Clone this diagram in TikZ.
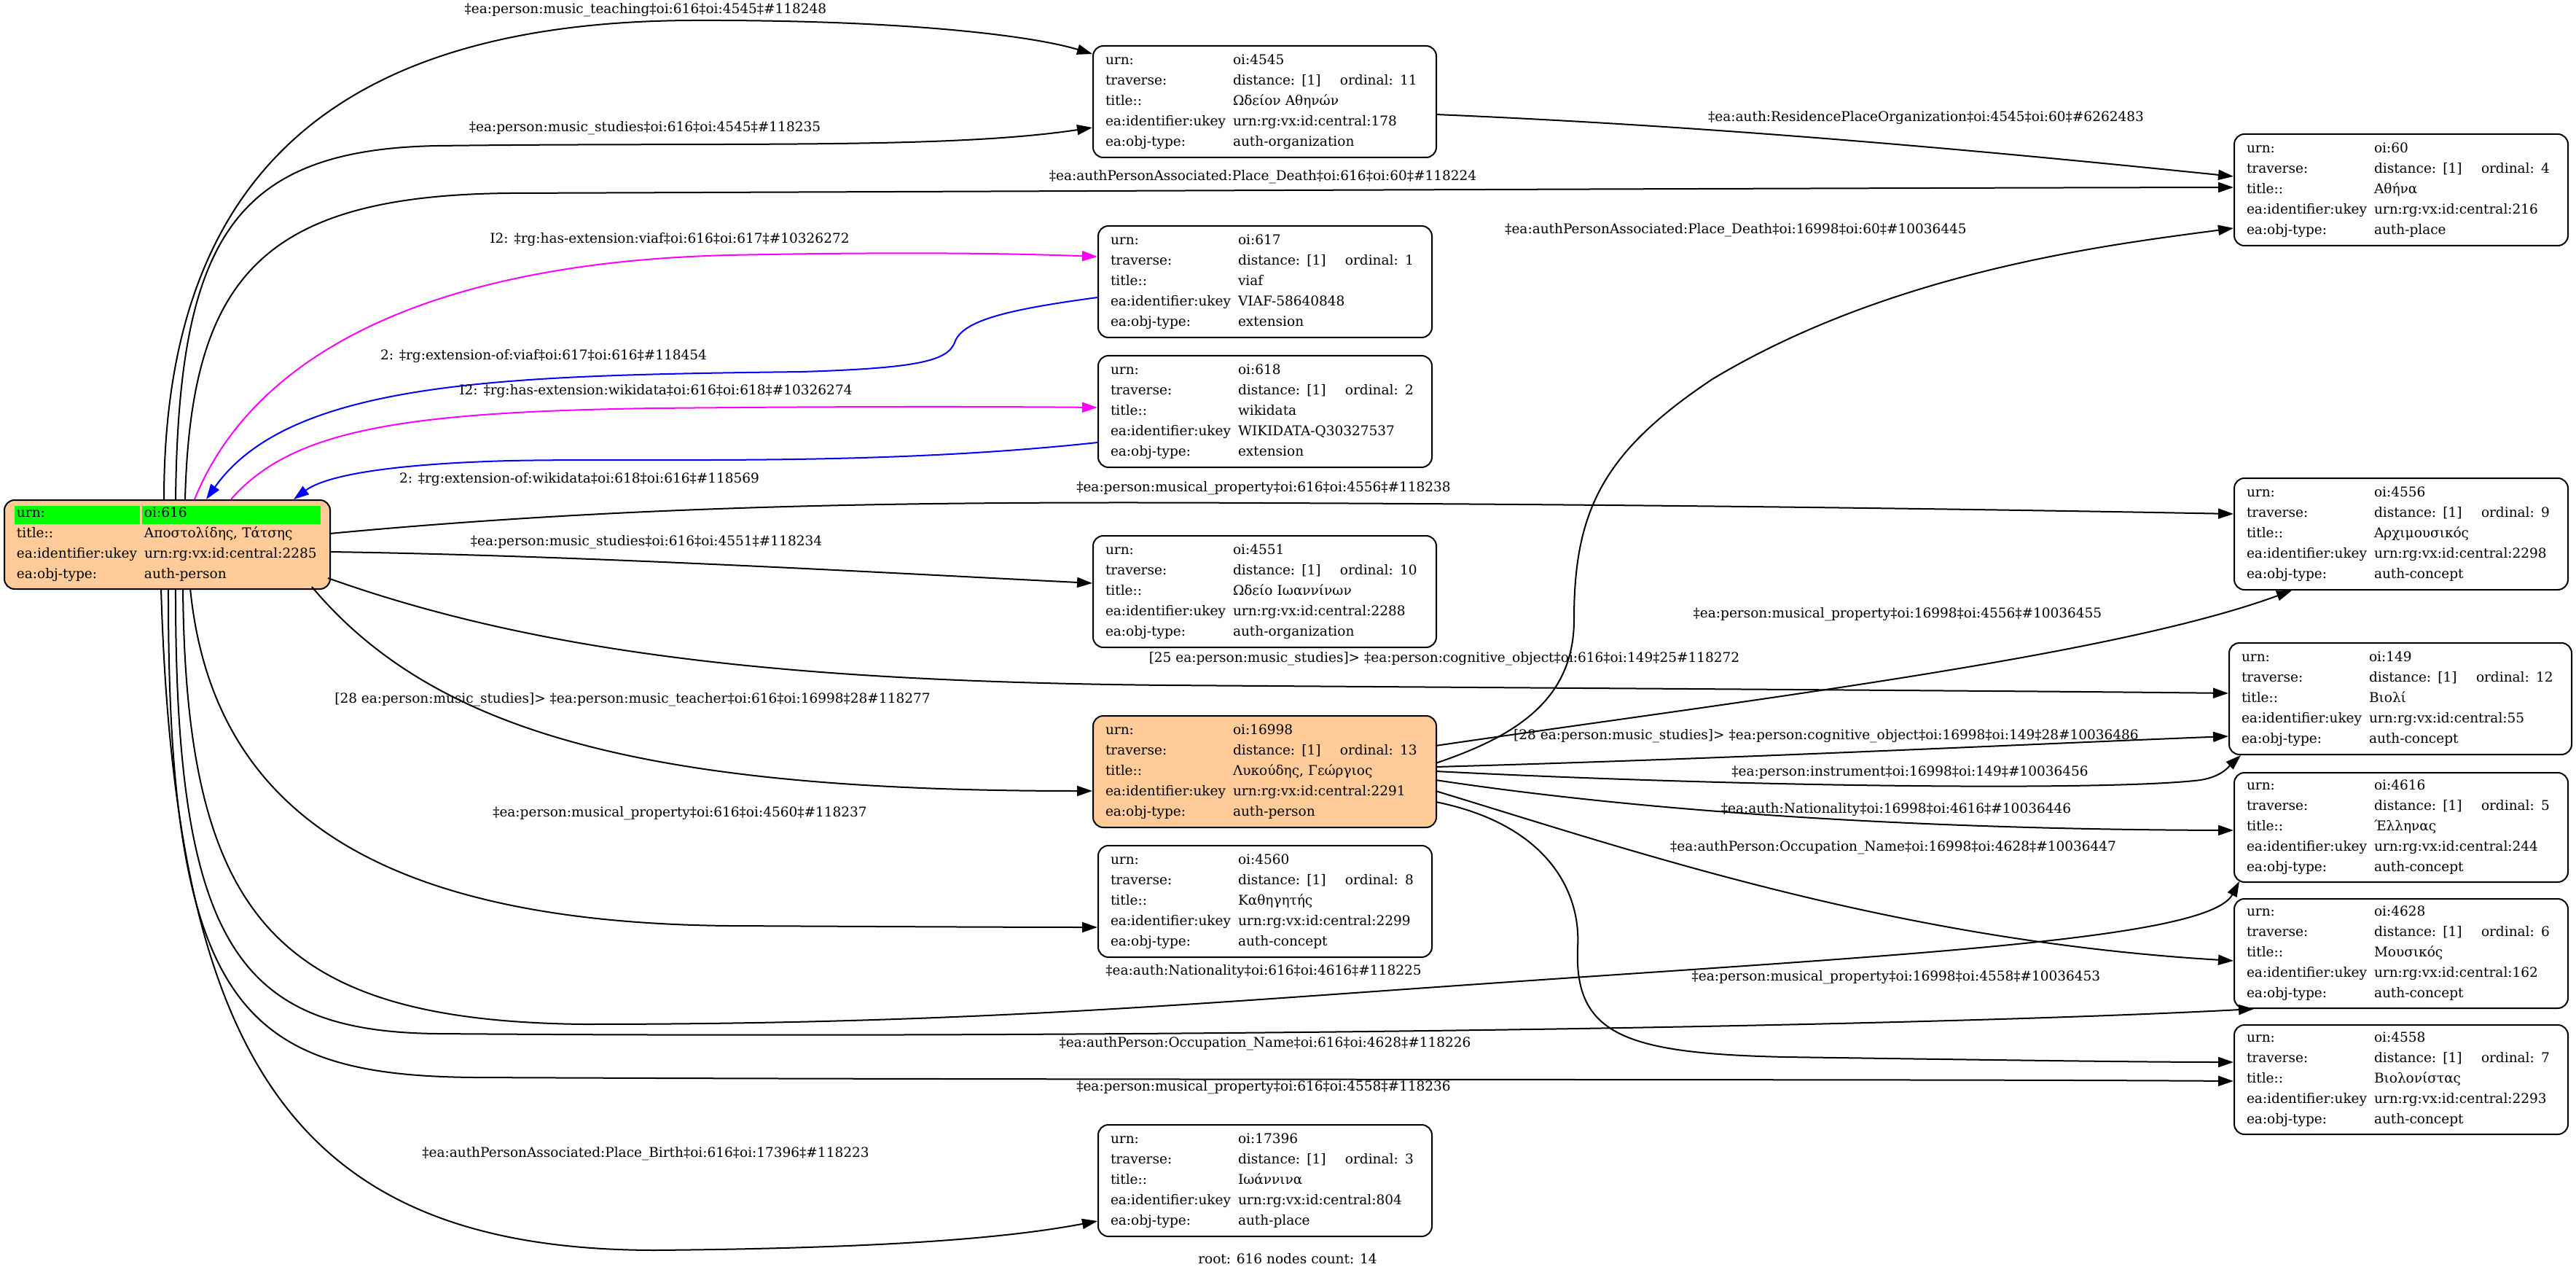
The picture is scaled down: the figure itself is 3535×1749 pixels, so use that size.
\documentclass[tikz,border=0pt]{standalone}
\usepackage{fontspec}
\setmainfont{DejaVu Serif}
\usetikzlibrary{arrows.meta,calc}
\definecolor{nodeorange}{HTML}{FFCC99}
\definecolor{gcell}{HTML}{00FF00}
\definecolor{emag}{HTML}{FF00FF}
\definecolor{eblue}{HTML}{0000FF}
\newcommand\rw[2]{\makebox[87.5pt][l]{#1}#2}
\newcommand\tv[1]{\makebox[73.5pt][l]{distance: [1]}ordinal: #1}
\newcommand\recbody[5]{\rw{urn:}{#1}\\\rw{traverse:}{\tv{#2}}\\\rw{title::}{#3}\\\rw{ea:identifier:ukey}{#4}\\\rw{ea:obj-type:}{#5}}
\tikzset{
  rec/.style={draw=black, line width=1pt, rounded corners=7pt, anchor=north west,
    inner xsep=8.5pt, inner ysep=0pt, align=left,
    font=\fontsize{9.25pt}{14pt}\selectfont, minimum height=76.5pt},
  wide/.style={text width=218.5pt},
  narrow/.style={text width=212pt},
  lbl/.style={inner sep=0pt, font=\fontsize{9.25pt}{14pt}\selectfont},
  edge/.style={draw=black, line width=1pt, -{Triangle[length=10.5pt,width=7pt]}},
  emagenta/.style={edge, draw=emag},
  eblu/.style={edge, draw=eblue}
}
\begin{document}
\begin{tikzpicture}[x=0.5pt,y=-0.5pt]
\useasboundingbox (0,0) rectangle (3535,1749);
% nodes
\node[rec, fill=nodeorange, text width=206.5pt, minimum height=61pt,
  path picture={\fill[gcell, sharp corners] ([xshift=7pt,yshift=-4pt]path picture bounding box.north west) rectangle ++(86pt,-12.5pt);
  \fill[gcell, sharp corners] ([xshift=94.5pt,yshift=-4pt]path picture bounding box.north west) rectangle ++(122.5pt,-12.5pt);}]
  (n616) at (5,685) {\rw{urn:}{oi:616}\\\rw{title::}{Αποστολίδης, Τάτσης}\\\rw{ea:identifier:ukey}{urn:rg:vx:id:central:2285}\\\rw{ea:obj-type:}{auth-person}};
\node[rec, wide] (n4545) at (1499,62) {\recbody{oi:4545}{11}{Ωδείον Αθηνών}{urn:rg:vx:id:central:178}{auth-organization}};
\node[rec, narrow] (n617) at (1506,309) {\recbody{oi:617}{1}{viaf}{VIAF-58640848}{extension}};
\node[rec, narrow] (n618) at (1506,487) {\recbody{oi:618}{2}{wikidata}{WIKIDATA-Q30327537}{extension}};
\node[rec, wide] (n4551) at (1499,734) {\recbody{oi:4551}{10}{Ωδείο Ιωαννίνων}{urn:rg:vx:id:central:2288}{auth-organization}};
\node[rec, wide, fill=nodeorange] (n16998) at (1499,981) {\recbody{oi:16998}{13}{Λυκούδης, Γεώργιος}{urn:rg:vx:id:central:2291}{auth-person}};
\node[rec, narrow] (n4560) at (1506,1159) {\recbody{oi:4560}{8}{Καθηγητής}{urn:rg:vx:id:central:2299}{auth-concept}};
\node[rec, narrow] (n17396) at (1506,1542) {\recbody{oi:17396}{3}{Ιωάννινα}{urn:rg:vx:id:central:804}{auth-place}};
\node[rec, narrow] (n60) at (3065,183) {\recbody{oi:60}{4}{Αθήνα}{urn:rg:vx:id:central:216}{auth-place}};
\node[rec, narrow] (n4556) at (3065,655) {\recbody{oi:4556}{9}{Αρχιμουσικός}{urn:rg:vx:id:central:2298}{auth-concept}};
\node[rec, wide, text width=218pt] (n149) at (3058,881) {\recbody{oi:149}{12}{Βιολί}{urn:rg:vx:id:central:55}{auth-concept}};
\node[rec, narrow, minimum height=75pt] (n4616) at (3065,1059) {\recbody{oi:4616}{5}{Έλληνας}{urn:rg:vx:id:central:244}{auth-concept}};
\node[rec, narrow, minimum height=75pt] (n4628) at (3065,1232) {\recbody{oi:4628}{6}{Μουσικός}{urn:rg:vx:id:central:162}{auth-concept}};
\node[rec, narrow, minimum height=75pt] (n4558) at (3065,1405) {\recbody{oi:4558}{7}{Βιολονίστας}{urn:rg:vx:id:central:2293}{auth-concept}};
% edges
\draw[edge] ($(n616.north west)+(220,0)$) .. controls (225,250) and (450,30) .. (950,28) .. controls (1250,27) and (1420,50) .. ($(n4545.north west)+(0,12)$);
\draw[edge] ($(n616.north west)+(236,0)$) .. controls (245,330) and (320,205) .. (600,200) .. controls (1000,195) and (1300,205) .. ($(n4545.north west)+(0,113)$);
\draw[edge] ($(n616.north west)+(249,0)$) .. controls (262,380) and (360,268) .. (700,265) .. controls (1500,262) and (2500,258) .. ($(n60.north west)+(0,74)$);
\draw[emagenta] ($(n616.north west)+(262,0)$) .. controls (350,480) and (600,360) .. (1000,350) .. controls (1250,345) and (1400,348) .. ($(n617.north west)+(0,43)$);
\draw[eblu] ($(n617.north west)+(0,99)$) .. controls (1380,425) and (1320,440) .. (1310,470) .. controls (1300,495) and (1260,505) .. (1100,510) .. controls (700,515) and (400,520) .. ($(n616.north west)+(278,0)$);
\draw[emagenta] ($(n616.north west)+(312,0)$) .. controls (400,590) and (550,565) .. (900,560) .. controls (1200,557) and (1400,558) .. ($(n618.north west)+(0,72)$);
\draw[eblu] ($(n618.north west)+(0,120)$) .. controls (1200,640) and (900,628) .. (700,632) .. controls (550,636) and (450,650) .. ($(n616.north west)+(398,0)$);
\draw[edge] ($(n616.north west)+(447,47)$) .. controls (900,690) and (1300,688) .. (1734,690) .. controls (2300,692) and (2800,700) .. ($(n4556.north west)+(0,50)$);
\draw[edge] ($(n616.north west)+(447,72)$) .. controls (800,762) and (1200,785) .. ($(n4551.north west)+(0,66)$);
\draw[edge] ($(n616.north west)+(445,108)$) .. controls (750,900) and (1100,935) .. (1600,940) .. controls (2300,945) and (2800,948) .. ($(n149.north west)+(0,70)$);
\draw[edge] ($(n616.north west)+(423,120)$) .. controls (600,1010) and (900,1085) .. ($(n16998.north west)+(0,104)$);
\draw[edge] ($(n616.north west)+(256,122)$) .. controls (290,1100) and (500,1265) .. (1000,1270) .. controls (1200,1271) and (1400,1272) .. ($(n4560.north west)+(0,113)$);
\draw[edge] ($(n616.north west)+(246,122)$) .. controls (255,1260) and (380,1400) .. (800,1405) .. controls (1300,1405) and (1600,1380) .. (2000,1352) .. controls (2600,1310) and (3030,1290) .. ($(n4616.south west)+(8,-2)$);
\draw[edge] ($(n616.north west)+(236,122)$) .. controls (240,1300) and (330,1415) .. (600,1418) .. controls (1500,1425) and (2600,1410) .. ($(n4628.south west)+(28,0)$);
\draw[edge] ($(n616.north west)+(226,122)$) .. controls (230,1380) and (330,1475) .. (650,1478) .. controls (1500,1482) and (2600,1480) .. ($(n4558.north west)+(0,78)$);
\draw[edge] ($(n616.north west)+(216,122)$) .. controls (240,1450) and (400,1715) .. (900,1715) .. controls (1250,1712) and (1400,1695) .. ($(n17396.north west)+(0,133)$);
\draw[edge] ($(n16998.north west)+(471,66)$) .. controls (2080,1010) and (2160,960) .. (2160,850) .. controls (2160,700) and (2200,620) .. (2350,520) .. controls (2600,370) and (2900,335) .. ($(n60.north west)+(0,130)$);
\draw[edge] ($(n16998.north west)+(471,42)$) .. controls (2400,960) and (2900,900) .. ($(n4556.south west)+(80,0)$);
\draw[edge] ($(n16998.north west)+(471,71)$) .. controls (2400,1040) and (2800,1020) .. ($(n149.north west)+(0,129)$);
\draw[edge] ($(n16998.north west)+(471,77)$) .. controls (2400,1080) and (2900,1085) .. (3020,1070) .. controls (3050,1065) and (3060,1050) .. ($(n149.south west)+(17,0)$);
\draw[edge] ($(n16998.north west)+(471,89)$) .. controls (2300,1120) and (2700,1138) .. ($(n4616.north west)+(0,80)$);
\draw[edge] ($(n16998.north west)+(471,104)$) .. controls (2250,1170) and (2600,1290) .. ($(n4628.north west)+(0,86)$);
\draw[edge] ($(n16998.north west)+(471,119)$) .. controls (2120,1130) and (2170,1220) .. (2165,1300) .. controls (2160,1420) and (2230,1445) .. (2450,1450) .. controls (2800,1455) and (2950,1457) .. ($(n4558.north west)+(0,52)$);
\draw[edge] ($(n4545.north west)+(471,95)$) .. controls (2400,175) and (2800,215) .. ($(n60.north west)+(0,59)$);
% labels
\node[lbl] (l1) at (886,14) {‡ea:person:music\_teaching‡oi:616‡oi:4545‡\#118248};
\node[lbl] (l2) at (885,176) {‡ea:person:music\_studies‡oi:616‡oi:4545‡\#118235};
\node[lbl] (l3) at (2643,162) {‡ea:auth:ResidencePlaceOrganization‡oi:4545‡oi:60‡\#6262483};
\node[lbl] (l4) at (1733,243) {‡ea:authPersonAssociated:Place\_Death‡oi:616‡oi:60‡\#118224};
\node[lbl] (l5) at (2382,316) {‡ea:authPersonAssociated:Place\_Death‡oi:16998‡oi:60‡\#10036445};
\node[lbl] (l6) at (919,329) {I2: ‡rg:has-extension:viaf‡oi:616‡oi:617‡\#10326272};
\node[lbl] (l7) at (746,489) {2: ‡rg:extension-of:viaf‡oi:617‡oi:616‡\#118454};
\node[lbl] (l8) at (900,537) {I2: ‡rg:has-extension:wikidata‡oi:616‡oi:618‡\#10326274};
\node[lbl] (l9) at (795,658) {2: ‡rg:extension-of:wikidata‡oi:618‡oi:616‡\#118569};
\node[lbl] (l10) at (1734,670) {‡ea:person:musical\_property‡oi:616‡oi:4556‡\#118238};
\node[lbl] (l11) at (887,744) {‡ea:person:music\_studies‡oi:616‡oi:4551‡\#118234};
\node[lbl] (l12) at (2604,843) {‡ea:person:musical\_property‡oi:16998‡oi:4556‡\#10036455};
\node[lbl] (l13) at (1982,904) {[25 ea:person:music\_studies]> ‡ea:person:cognitive\_object‡oi:616‡oi:149‡25\#118272};
\node[lbl] (l14) at (868,960) {[28 ea:person:music\_studies]> ‡ea:person:music\_teacher‡oi:616‡oi:16998‡28\#118277};
\node[lbl] (l15) at (2506,1010) {[28 ea:person:music\_studies]> ‡ea:person:cognitive\_object‡oi:16998‡oi:149‡28\#10036486};
\node[lbl] (l16) at (2621,1060) {‡ea:person:instrument‡oi:16998‡oi:149‡\#10036456};
\node[lbl] (l17) at (2602,1111) {‡ea:auth:Nationality‡oi:16998‡oi:4616‡\#10036446};
\node[lbl] (l18) at (933,1116) {‡ea:person:musical\_property‡oi:616‡oi:4560‡\#118237};
\node[lbl] (l19) at (2598,1163) {‡ea:authPerson:Occupation\_Name‡oi:16998‡oi:4628‡\#10036447};
\node[lbl] (l20) at (1734,1333) {‡ea:auth:Nationality‡oi:616‡oi:4616‡\#118225};
\node[lbl] (l21) at (2602,1341) {‡ea:person:musical\_property‡oi:16998‡oi:4558‡\#10036453};
\node[lbl] (l22) at (1736,1432) {‡ea:authPerson:Occupation\_Name‡oi:616‡oi:4628‡\#118226};
\node[lbl] (l23) at (1734,1492) {‡ea:person:musical\_property‡oi:616‡oi:4558‡\#118236};
\node[lbl] (l24) at (886,1583) {‡ea:authPersonAssociated:Place\_Birth‡oi:616‡oi:17396‡\#118223};
\node[lbl] (l25) at (1767,1727) {root: 616 nodes count: 14};
\end{tikzpicture}
\end{document}
